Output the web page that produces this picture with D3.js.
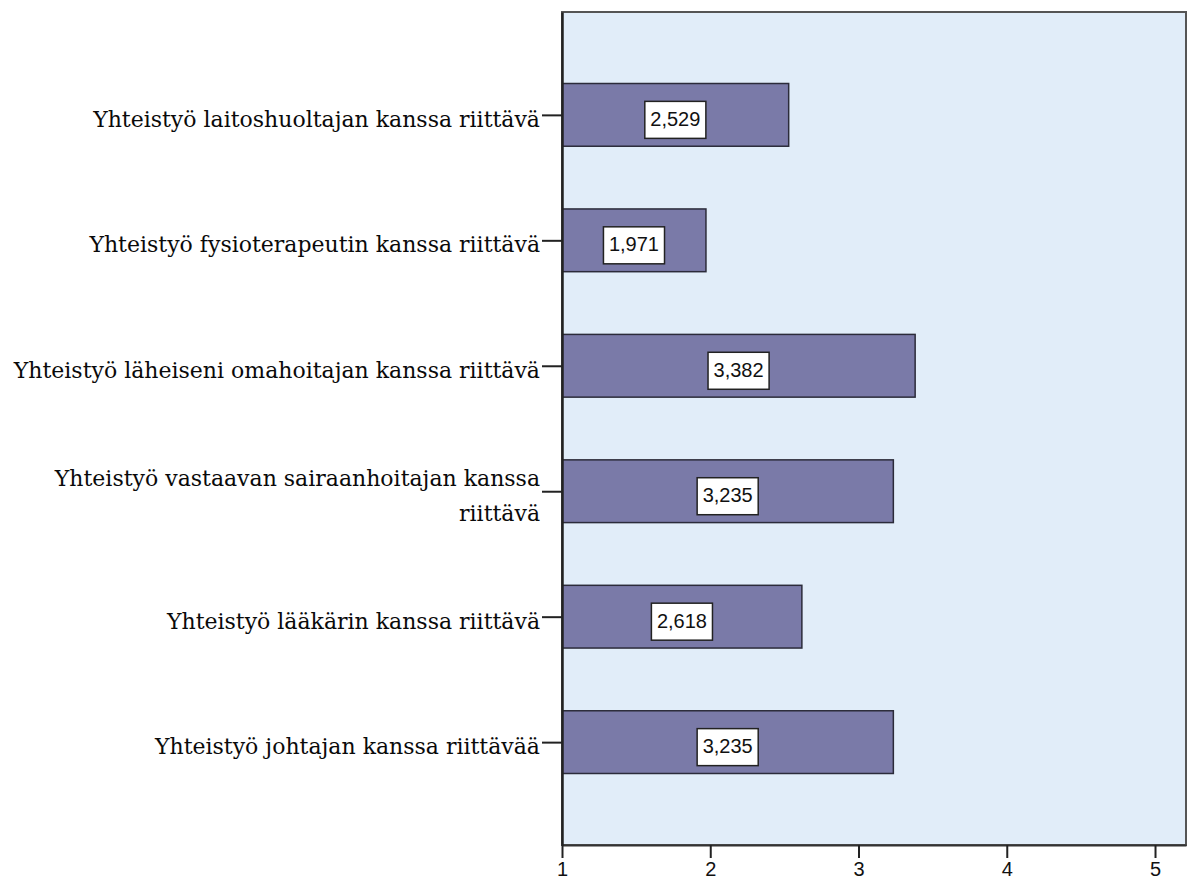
<!DOCTYPE html>
<html>
<head>
<meta charset="utf-8">
<script src="https://cdn.jsdelivr.net/npm/d3@7"></script>
<style>
  html, body { margin: 0; padding: 0; background: #ffffff; }
  svg { display: block; }
</style>
</head>
<body>
<svg id="chart" width="1193" height="881"></svg>
<script>
// Mean agreement scores per collaboration item (scale 1–5)
const categories = [
  "Yhteistyö laitoshuoltajan kanssa riittävä",
  "Yhteistyö fysioterapeutin kanssa riittävä",
  "Yhteistyö läheiseni omahoitajan kanssa riittävä",
  "Yhteistyö vastaavan sairaanhoitajan kanssa riittävä",
  "Yhteistyö lääkärin kanssa riittävä",
  "Yhteistyö johtajan kanssa riittävää"
];
const means = [2.529, 1.971, 3.382, 3.235, 2.618, 3.235];
const xTicks = [1, 2, 3, 4, 5];

const svg = d3.select("#chart");
const plot = { left: 562, right: 1186, top: 12, bottom: 845 };
const labelFont = "'DejaVu Serif', serif";
const numFont = "'Liberation Sans', Arial, sans-serif";

const x = d3.scaleLinear().domain([1, 5.209]).range([plot.left, plot.right]);
const y = d3.scaleBand().domain(categories).range([plot.top, plot.bottom])
  .paddingInner(0.5).paddingOuter(0.57);

// plot background
svg.append("rect")
  .attr("x", plot.left).attr("y", plot.top)
  .attr("width", plot.right - plot.left).attr("height", plot.bottom - plot.top)
  .attr("fill", "#e1edf9");

// bars
svg.append("g").selectAll("rect").data(categories).join("rect")
  .attr("x", x(1))
  .attr("y", d => y(d))
  .attr("width", (d, i) => x(means[i]) - x(1))
  .attr("height", y.bandwidth())
  .attr("fill", "#7a7aa8")
  .attr("stroke", "#2b2b3a")
  .attr("stroke-width", 1.5);

// frame
svg.append("rect")
  .attr("x", plot.left).attr("y", plot.top)
  .attr("width", plot.right - plot.left).attr("height", plot.bottom - plot.top)
  .attr("fill", "none").attr("stroke", "#555").attr("stroke-width", 2);

// bottom axis
const xAxis = svg.append("g")
  .attr("transform", `translate(0,${plot.bottom})`)
  .call(d3.axisBottom(x).tickValues(xTicks).tickFormat(d3.format("d"))
    .tickSizeInner(13).tickSizeOuter(0).tickPadding(4));
xAxis.select(".domain").attr("stroke", "#333").attr("stroke-width", 2);
xAxis.selectAll(".tick line").attr("stroke", "#222").attr("stroke-width", 2);
xAxis.selectAll(".tick text")
  .attr("font-family", numFont).attr("font-size", 20).attr("fill", "#111")
  .attr("dy", null).attr("y", 31);

// left axis line and ticks
const yAxis = svg.append("g")
  .attr("transform", `translate(${plot.left},0)`)
  .call(d3.axisLeft(y).tickSizeInner(20).tickSizeOuter(0).tickFormat(""));
yAxis.select(".domain").attr("stroke", "#222").attr("stroke-width", 2.5);
yAxis.selectAll(".tick line").attr("stroke", "#222").attr("stroke-width", 2)
  .attr("transform", "translate(0,0.5)");

// category labels, wrapped when they do not fit left of the axis
const labelRight = 540;
const maxLabelWidth = 538;
const lineGap = 35;
const labels = svg.append("g")
  .attr("font-family", labelFont).attr("font-size", 22).attr("fill", "#0a0a0a")
  .attr("text-anchor", "end");

categories.forEach(cat => {
  const cy = y(cat) + y.bandwidth() / 2;
  const t = labels.append("text").attr("x", labelRight);
  // greedy wrap by measured width
  const words = cat.split(" ");
  const lines = [];
  let cur = [];
  const probe = t.append("tspan");
  words.forEach(w => {
    const test = cur.concat([w]).join(" ");
    probe.text(test);
    if (probe.node().getComputedTextLength() > maxLabelWidth && cur.length) {
      lines.push(cur.join(" "));
      cur = [w];
    } else {
      cur.push(w);
    }
  });
  lines.push(cur.join(" "));
  probe.remove();
  const baseline = cy + 12 - (lines.length - 1) * lineGap / 2;
  lines.forEach((ln, k) => {
    t.append("tspan").attr("x", labelRight).attr("y", baseline + k * lineGap).text(ln);
  });
});

// value labels in white boxes
const fmt = v => d3.format(".3f")(v).replace(".", ",");
const vals = svg.append("g");
categories.forEach((cat, i) => {
  const cx = (x(1) + x(means[i])) / 2;
  const cy = y(cat) + y.bandwidth() / 2 + 5;
  const g = vals.append("g");
  const box = g.append("rect");
  const txt = g.append("text")
    .attr("x", cx).attr("y", cy + 6)
    .attr("text-anchor", "middle")
    .attr("font-family", numFont).attr("font-size", 20).attr("fill", "#111")
    .text(fmt(means[i]));
  const w = txt.node().getComputedTextLength() + 11;
  const h = 37;
  box.attr("x", cx - w / 2).attr("y", cy - h / 2)
    .attr("width", w).attr("height", h)
    .attr("fill", "#ffffff").attr("stroke", "#222").attr("stroke-width", 1.5);
});
</script>
</body>
</html>
